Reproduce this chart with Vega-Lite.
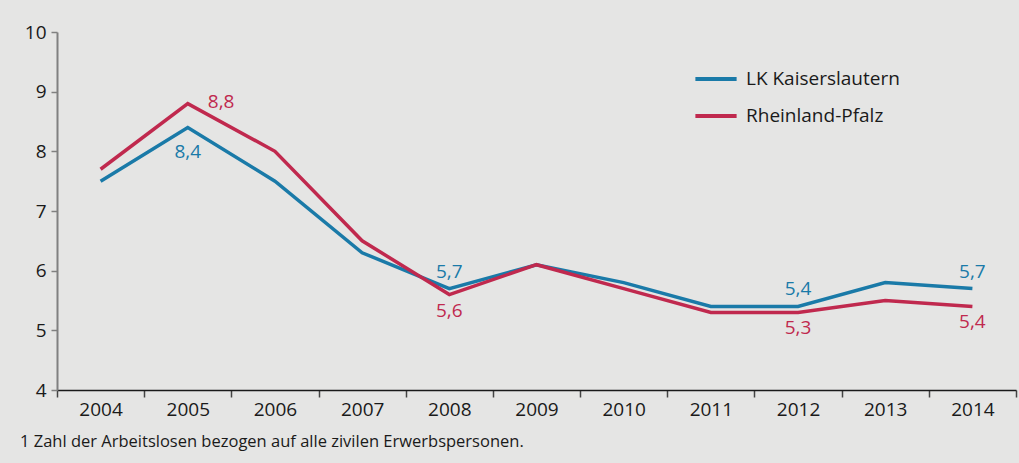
{
  "$schema": "https://vega.github.io/schema/vega-lite/v6.json",
  "width": 959,
  "height": 358,
  "autosize": {"type": "none"},
  "padding": {"left": 57, "top": 32, "right": 3, "bottom": 73},
  "background": "#e5e5e4",
  "config": {"view": {"stroke": null}, "font": "Open Sans"},
  "title": {
    "text": "1 Zahl der Arbeitslosen bezogen auf alle zivilen Erwerbspersonen.",
    "orient": "bottom",
    "anchor": "start",
    "frame": "group",
    "dx": -37,
    "offset": 15,
    "fontSize": 16.5,
    "fontWeight": "normal",
    "color": "#1a1a1a"
  },
  "data": {
    "values": [
      {"year": "2004", "series": "LK Kaiserslautern", "value": 7.5, "label": null},
      {"year": "2005", "series": "LK Kaiserslautern", "value": 8.4, "label": "8,4"},
      {"year": "2006", "series": "LK Kaiserslautern", "value": 7.5, "label": null},
      {"year": "2007", "series": "LK Kaiserslautern", "value": 6.3, "label": null},
      {"year": "2008", "series": "LK Kaiserslautern", "value": 5.7, "label": "5,7"},
      {"year": "2009", "series": "LK Kaiserslautern", "value": 6.1, "label": null},
      {"year": "2010", "series": "LK Kaiserslautern", "value": 5.8, "label": null},
      {"year": "2011", "series": "LK Kaiserslautern", "value": 5.4, "label": null},
      {"year": "2012", "series": "LK Kaiserslautern", "value": 5.4, "label": "5,4"},
      {"year": "2013", "series": "LK Kaiserslautern", "value": 5.8, "label": null},
      {"year": "2014", "series": "LK Kaiserslautern", "value": 5.7, "label": "5,7"},
      {"year": "2004", "series": "Rheinland-Pfalz", "value": 7.7, "label": null},
      {"year": "2005", "series": "Rheinland-Pfalz", "value": 8.8, "label": "8,8"},
      {"year": "2006", "series": "Rheinland-Pfalz", "value": 8.0, "label": null},
      {"year": "2007", "series": "Rheinland-Pfalz", "value": 6.5, "label": null},
      {"year": "2008", "series": "Rheinland-Pfalz", "value": 5.6, "label": "5,6"},
      {"year": "2009", "series": "Rheinland-Pfalz", "value": 6.1, "label": null},
      {"year": "2010", "series": "Rheinland-Pfalz", "value": 5.7, "label": null},
      {"year": "2011", "series": "Rheinland-Pfalz", "value": 5.3, "label": null},
      {"year": "2012", "series": "Rheinland-Pfalz", "value": 5.3, "label": "5,3"},
      {"year": "2013", "series": "Rheinland-Pfalz", "value": 5.5, "label": null},
      {"year": "2014", "series": "Rheinland-Pfalz", "value": 5.4, "label": "5,4"}
    ]
  },
  "encoding": {
    "x": {
      "field": "year",
      "type": "ordinal",
      "scale": {"type": "band", "paddingInner": 0, "paddingOuter": 0},
      "axis": {
        "title": null,
        "labelAngle": 0,
        "tickBand": "extent",
        "domainColor": "#1a1a1a",
        "domainWidth": 1.5,
        "tickColor": "#444444",
        "tickWidth": 1.5,
        "tickSize": 7,
        "labelFontSize": 19,
        "labelColor": "#1a1a1a",
        "labelPadding": 3,
        "grid": false
      }
    },
    "y": {
      "field": "value",
      "type": "quantitative",
      "scale": {"domain": [4, 10], "nice": false, "zero": false},
      "axis": {
        "title": null,
        "values": [4, 5, 6, 7, 8, 9, 10],
        "domainColor": "#808080",
        "domainWidth": 2,
        "tickColor": "#808080",
        "tickWidth": 1.5,
        "tickSize": 6,
        "labelFontSize": 19,
        "labelColor": "#1a1a1a",
        "labelPadding": 5,
        "grid": false
      }
    },
    "color": {
      "field": "series",
      "type": "nominal",
      "scale": {
        "domain": ["LK Kaiserslautern", "Rheinland-Pfalz"],
        "range": ["#1a7aa8", "#c0294e"]
      }
    }
  },
  "layer": [
    {
      "mark": {"type": "line", "strokeWidth": 3.5},
      "encoding": {
        "color": {
          "field": "series",
          "type": "nominal",
          "scale": {
            "domain": ["LK Kaiserslautern", "Rheinland-Pfalz"],
            "range": ["#1a7aa8", "#c0294e"]
          },
          "legend": {
            "title": null,
            "orient": "none",
            "legendX": 636,
            "legendY": 24,
            "symbolType": "stroke",
            "symbolSize": 1700,
            "symbolStrokeWidth": 4,
            "labelFontSize": 19,
            "labelColor": "#1a1a1a",
            "labelOffset": 7,
            "rowPadding": 4
          }
        }
      }
    },
    {
      "transform": [{"filter": "datum.series == 'LK Kaiserslautern' && datum.label != null && datum.year != '2005'"}],
      "mark": {"type": "text", "fontSize": 19, "baseline": "middle", "align": "center", "dy": -17},
      "encoding": {"text": {"field": "label"}}
    },
    {
      "transform": [{"filter": "datum.series == 'LK Kaiserslautern' && datum.year == '2005'"}],
      "mark": {"type": "text", "fontSize": 19, "baseline": "middle", "align": "center", "dy": 25},
      "encoding": {"text": {"field": "label"}}
    },
    {
      "transform": [{"filter": "datum.series == 'Rheinland-Pfalz' && datum.year == '2005'"}],
      "mark": {"type": "text", "fontSize": 19, "baseline": "middle", "align": "left", "dx": 20, "dy": -2},
      "encoding": {"text": {"field": "label"}}
    },
    {
      "transform": [{"filter": "datum.series == 'Rheinland-Pfalz' && datum.label != null && datum.year != '2005'"}],
      "mark": {"type": "text", "fontSize": 19, "baseline": "middle", "align": "center", "dy": 16},
      "encoding": {"text": {"field": "label"}}
    }
  ]
}
